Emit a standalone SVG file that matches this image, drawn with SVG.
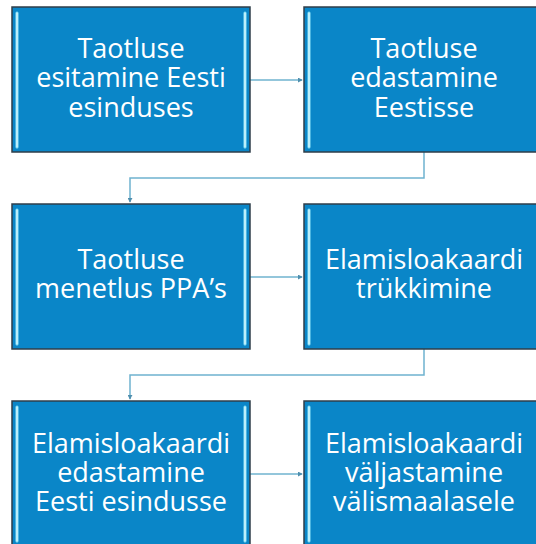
<svg xmlns="http://www.w3.org/2000/svg" width="536" height="544" viewBox="0 0 536 544">
<defs>
<style>
.box{fill:#0a86c8;stroke:#2f3e4a;stroke-width:1.5}
.hl{fill:none;stroke:#8fe3f8;stroke-width:3;stroke-linecap:round}
.hl2{fill:none;stroke:#e8fbff;stroke-width:1}
.t{font-family:"Open Sans","Liberation Sans",sans-serif;font-size:27px;fill:#ffffff;text-anchor:middle}
.c{fill:none;stroke:#6fb3cf;stroke-width:1.5}
</style>
<marker id="ah" viewBox="0 0 6 6" refX="5" refY="3" markerWidth="5" markerHeight="5" orient="auto" markerUnits="userSpaceOnUse">
<path d="M0,0 L6,3 L0,6 Z" fill="#4f8fae"/>
</marker>
</defs>
<rect width="536" height="544" fill="#ffffff"/>
<g id="connectors">
<path class="c" d="M250,80 H302" marker-end="url(#ah)"/>
<path class="c" d="M424,152 V178 H130 V202" marker-end="url(#ah)"/>
<path class="c" d="M250,277 H302" marker-end="url(#ah)"/>
<path class="c" d="M424,349 V375 H130 V399" marker-end="url(#ah)"/>
<path class="c" d="M250,474 H302" marker-end="url(#ah)"/>
</g>
<g id="n1">
<rect class="box" x="12" y="7" width="238" height="145"/>
<path class="hl" d="M17,13 V147 M245,13 V147"/>
<path class="hl2" d="M17,13 V147 M245,13 V147"/>
<text class="t" x="131" y="58">Taotluse</text>
<text class="t" x="131" y="87">esitamine Eesti</text>
<text class="t" x="131" y="117">esinduses</text>
</g>
<g id="n2">
<rect class="box" x="304" y="7" width="240" height="145"/>
<path class="hl" d="M309,13 V147"/>
<path class="hl2" d="M309,13 V147"/>
<text class="t" x="424" y="58">Taotluse</text>
<text class="t" x="424" y="87">edastamine</text>
<text class="t" x="424" y="117">Eestisse</text>
</g>
<g id="n3">
<rect class="box" x="12" y="204" width="238" height="145"/>
<path class="hl" d="M17,210 V344 M245,210 V344"/>
<path class="hl2" d="M17,210 V344 M245,210 V344"/>
<text class="t" x="131" y="269">Taotluse</text>
<text class="t" x="131" y="298">menetlus PPA’s</text>
</g>
<g id="n4">
<rect class="box" x="304" y="204" width="240" height="145"/>
<path class="hl" d="M309,210 V344"/>
<path class="hl2" d="M309,210 V344"/>
<text class="t" x="424" y="269">Elamisloakaardi</text>
<text class="t" x="424" y="298">trükkimine</text>
</g>
<g id="n5">
<rect class="box" x="12" y="401" width="238" height="145"/>
<path class="hl" d="M17,407 V541 M245,407 V541"/>
<path class="hl2" d="M17,407 V541 M245,407 V541"/>
<text class="t" x="131" y="453">Elamisloakaardi</text>
<text class="t" x="131" y="482">edastamine</text>
<text class="t" x="131" y="511">Eesti esindusse</text>
</g>
<g id="n6">
<rect class="box" x="304" y="401" width="240" height="145"/>
<path class="hl" d="M309,407 V541"/>
<path class="hl2" d="M309,407 V541"/>
<text class="t" x="424" y="453">Elamisloakaardi</text>
<text class="t" x="424" y="482">väljastamine</text>
<text class="t" x="424" y="511">välismaalasele</text>
</g>
</svg>
